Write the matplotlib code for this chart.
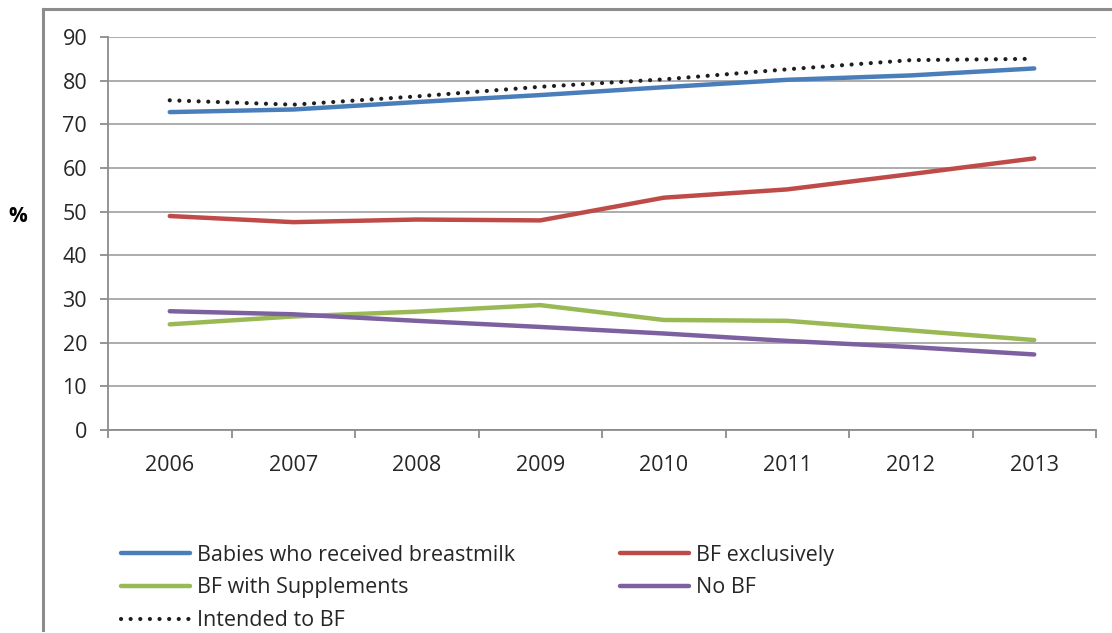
import numpy as np
import matplotlib.pyplot as plt
from matplotlib.lines import Line2D
from matplotlib.ticker import FixedLocator

plt.rcParams['font.family'] = ['Open Sans', 'DejaVu Sans']

years = ['2006', '2007', '2008', '2009', '2010', '2011', '2012', '2013']
received = [72.8, 73.4, 75.1, 76.7, 78.5, 80.2, 81.2, 82.8]
exclusive = [49.0, 47.6, 48.2, 48.0, 53.2, 55.1, 58.6, 62.2]
supplements = [24.2, 26.0, 27.1, 28.6, 25.2, 25.0, 22.8, 20.6]
no_bf = [27.2, 26.5, 25.0, 23.6, 22.1, 20.4, 19.0, 17.3]
intended = [75.5, 74.5, 76.4, 78.6, 80.3, 82.6, 84.7, 85.0]

fig = plt.figure(figsize=(11.12, 6.33), dpi=100)
ax = fig.add_axes([108/1112, 1 - 430/633, (1096 - 108)/1112, (430 - 37)/633])

x = np.arange(len(years))
l_rec, = ax.plot(x, received, color='#4A7EBB', lw=3.2, solid_capstyle='round')
l_exc, = ax.plot(x, exclusive, color='#BE4B48', lw=3.2, solid_capstyle='round')
l_sup, = ax.plot(x, supplements, color='#98B954', lw=3.2, solid_capstyle='round')
l_no, = ax.plot(x, no_bf, color='#7D60A0', lw=3.2, solid_capstyle='round')
l_int, = ax.plot(x, intended, color='#1E1E1E', lw=3, dashes=(0.01, 2.3),
                 dash_capstyle='round')

ax.set_xlim(-0.5, len(years) - 0.5)
ax.set_ylim(0, 90)
ax.set_yticks(range(0, 91, 10))
ax.set_xticks(x)
ax.set_xticklabels(years)
ax.xaxis.set_minor_locator(FixedLocator(np.arange(-0.5, len(years), 1)))

ax.grid(axis='y', color='#A6A6A6', lw=1.3)
ax.set_axisbelow(True)
for s in ['top', 'right']:
    ax.spines[s].set_visible(False)
for s in ['left', 'bottom']:
    ax.spines[s].set_color('#8C8C8C')
    ax.spines[s].set_linewidth(1.3)

ax.tick_params(axis='y', length=6, width=1.3, color='#8C8C8C', pad=9,
               labelsize=15.5, labelcolor='#262626')
ax.tick_params(axis='x', which='major', length=0, pad=18,
               labelsize=15.5, labelcolor='#262626')
ax.tick_params(axis='x', which='minor', length=6, width=1.3, color='#8C8C8C')

fig.text(18/1112, 1 - 217/633, '%', fontsize=15, fontweight='bold',
         ha='center', va='center', color='black')

# outer frame (top and left edges)
fig.add_artist(Line2D([43/1112, 43/1112], [1 - 630/633, 1 - 9/633],
                      color='#8C8C8C', lw=2.2, transform=fig.transFigure))
fig.add_artist(Line2D([43/1112, 1.0], [1 - 9/633, 1 - 9/633],
                      color='#8C8C8C', lw=2.2, transform=fig.transFigure))

fig.legend([l_rec, l_sup, l_int, l_exc, l_no],
           ['Babies who received breastmilk', 'BF with Supplements',
            'Intended to BF', 'BF exclusively', 'No BF'],
           ncol=2, loc='upper left', bbox_to_anchor=(112/1112, 1 - 536/633),
           frameon=False, fontsize=15.5, handlelength=3.2, handletextpad=0.33,
           labelspacing=0.55, columnspacing=4.9, borderaxespad=0,
           labelcolor='#262626')

fig.savefig('out.png', dpi=100)
